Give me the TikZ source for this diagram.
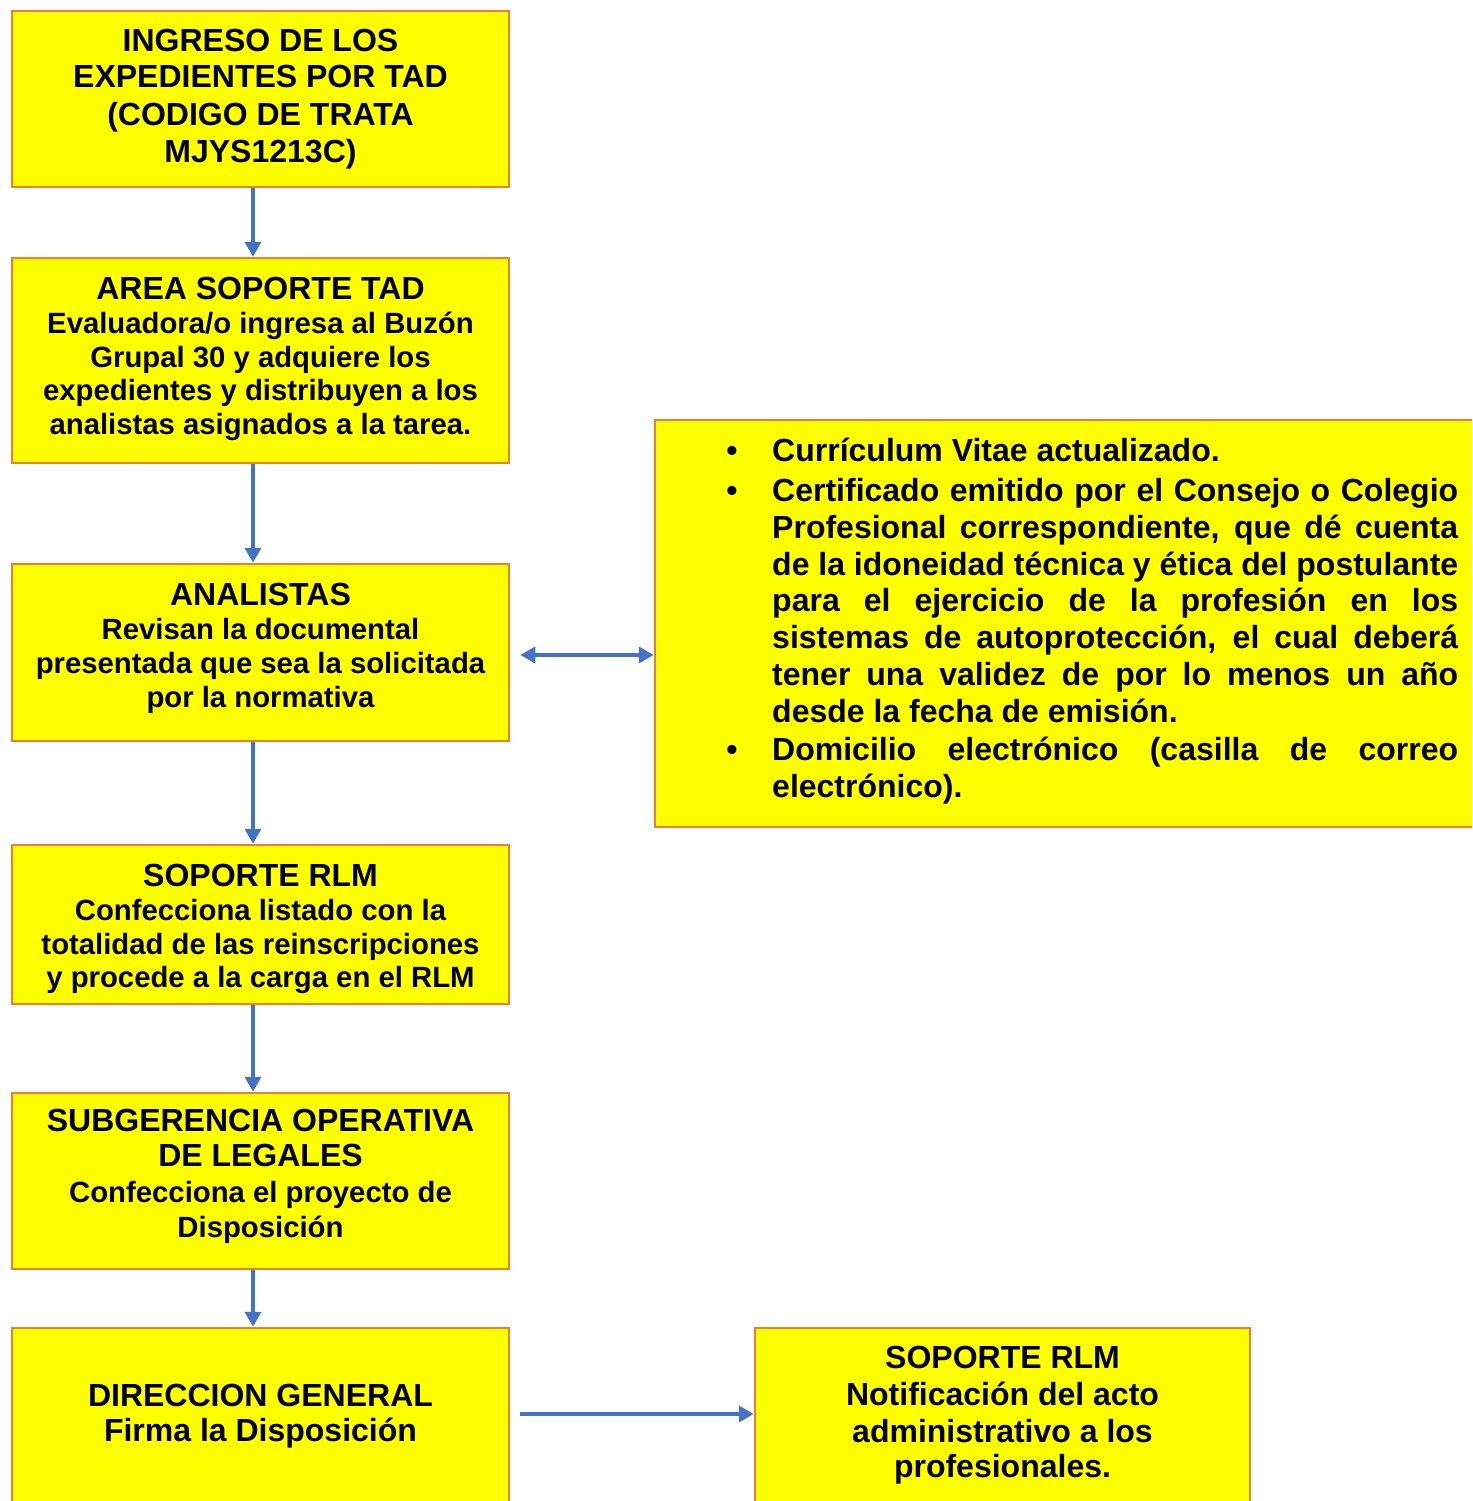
\documentclass[tikz,border=0pt]{standalone}
\usepackage{fontspec}
\setmainfont{Liberation Sans}
\usetikzlibrary{arrows.meta,calc}
\definecolor{boxfill}{HTML}{FFFF00}
\definecolor{boxline}{HTML}{ED7D31}
\definecolor{arrowc}{HTML}{4472C4}
\begin{document}
\begin{tikzpicture}[x=1pt,y=-1pt,
  flowbox/.style={draw=boxline, fill=boxfill, line width=2.5pt, inner sep=0pt},
  ttl/.style={anchor=base, inner sep=0pt, font=\fontsize{32}{37}\selectfont\bfseries},
  sub/.style={anchor=base, inner sep=0pt, font=\fontsize{29.3}{34}\selectfont\bfseries},
  rline/.style={anchor=base west, inner sep=0pt, font=\fontsize{32}{37}\selectfont\bfseries},
  bul/.style={anchor=base, inner sep=0pt, font=\fontsize{32}{37}\selectfont\bfseries},
  conn/.style={draw=arrowc, line width=4pt, -{Triangle[width=16pt,length=15pt]}},
  conndbl/.style={draw=arrowc, line width=4pt, {Triangle[width=16pt,length=15pt]}-{Triangle[width=16pt,length=15pt]}}]
\useasboundingbox (0,0) rectangle (1472,1501);
\clip (0,0) rectangle (1472,1501);
% boxes
\node[flowbox, minimum width=497pt, minimum height=176pt] (b1) at (260.5,99) {};
\node[flowbox, minimum width=497pt, minimum height=205pt] (b2) at (260.5,360.5) {};
\node[flowbox, minimum width=497pt, minimum height=177pt] (b3) at (260.5,652.5) {};
\node[flowbox, minimum width=497pt, minimum height=159pt] (b4) at (260.5,924.5) {};
\node[flowbox, minimum width=497pt, minimum height=176pt] (b5) at (260.5,1181) {};
\node[flowbox, minimum width=497pt, minimum height=182pt] (b6) at (260.5,1419) {};
\node[flowbox, minimum width=825pt, minimum height=407pt] (r1) at (1067.5,623.5) {};
\node[flowbox, minimum width=495pt, minimum height=182pt] (r2) at (1002.5,1419) {};
% box 1
\node[ttl] (t1a) at (260.5,52) {INGRESO DE LOS};
\node[ttl] (t1b) at (260.5,88) {EXPEDIENTES POR TAD};
\node[ttl] (t1c) at (260.5,125) {(CODIGO DE TRATA};
\node[ttl] (t1d) at (260.5,162) {MJYS1213C)};
% box 2
\node[ttl] (t2a) at (260.5,299.5) {AREA SOPORTE TAD};
\node[sub] (t2b) at (260.5,333) {Evaluadora/o ingresa al Buzón};
\node[sub] (t2c) at (260.5,367) {Grupal 30 y adquiere los};
\node[sub] (t2d) at (260.5,400) {expedientes y distribuyen a los};
\node[sub] (t2e) at (260.5,434) {analistas asignados a la tarea.};
% box 3
\node[ttl] (t3a) at (260.5,605) {ANALISTAS};
\node[sub] (t3b) at (260.5,639) {Revisan la documental};
\node[sub] (t3c) at (260.5,673) {presentada que sea la solicitada};
\node[sub] (t3d) at (260.5,707) {por la normativa};
% box 4
\node[ttl] (t4a) at (260.5,886) {SOPORTE RLM};
\node[sub] (t4b) at (260.5,920) {Confecciona listado con la};
\node[sub] (t4c) at (260.5,954) {totalidad de las reinscripciones};
\node[sub] (t4d) at (260.5,987) {y procede a la carga en el RLM};
% box 5
\node[ttl] (t5a) at (260.5,1131.5) {SUBGERENCIA OPERATIVA};
\node[ttl] (t5b) at (260.5,1166.5) {DE LEGALES};
\node[sub] (t5c) at (260.5,1202) {Confecciona el proyecto de};
\node[sub] (t5d) at (260.5,1237) {Disposición};
% box 6
\node[ttl] (t6a) at (260.5,1406) {DIRECCION GENERAL};
\node[ttl] (t6b) at (260.5,1441) {Firma la Disposición};
% box r2
\node[ttl] (t7a) at (1002.5,1368) {SOPORTE RLM};
\node[ttl] (t7b) at (1002.5,1405) {Notificación del acto};
\node[ttl] (t7c) at (1002.5,1442) {administrativo a los};
\node[ttl] (t7d) at (1002.5,1477) {profesionales.};
% box r1
\node[bul] (u1) at (732,461) {\textbullet};
\node[bul] (u2) at (732,501) {\textbullet};
\node[bul] (u3) at (732,760) {\textbullet};
\node[rline] (l1) at (772,461) {Currículum Vitae actualizado.};
\node[rline] (l2) at (772,501) {\makebox[686pt][s]{Certificado emitido por el Consejo o Colegio}};
\node[rline] (l3) at (772,538) {\makebox[686pt][s]{Profesional correspondiente, que dé cuenta}};
\node[rline] (l4) at (772,575) {\makebox[686pt][s]{de la idoneidad técnica y ética del postulante}};
\node[rline] (l5) at (772,611) {\makebox[686pt][s]{para el ejercicio de la profesión en los}};
\node[rline] (l6) at (772,648) {\makebox[686pt][s]{sistemas de autoprotección, el cual deberá}};
\node[rline] (l7) at (772,685) {\makebox[686pt][s]{tener una validez de por lo menos un año}};
\node[rline] (l8) at (772,722) {desde la fecha de emisión.};
\node[rline] (l9) at (772,760) {\makebox[686pt][s]{Domicilio electrónico (casilla de correo}};
\node[rline] (l10) at (772,797) {electrónico).};
% connectors
\draw[conn] ([xshift=-7.5pt]b1.south) -- ([xshift=-7.5pt]b2.north);
\draw[conn] ([xshift=-7.5pt]b2.south) -- ([xshift=-7.5pt]b3.north);
\draw[conn] ([xshift=-7.5pt]b3.south) -- ([xshift=-7.5pt]b4.north);
\draw[conn] ([xshift=-7.5pt]b4.south) -- ([xshift=-7.5pt]b5.north);
\draw[conn] ([xshift=-7.5pt]b5.south) -- ([xshift=-7.5pt]b6.north);
\coordinate (dl) at ($(b3.east)+(10,2.5)$);
\draw[conndbl] (dl) -- (dl -| r1.west);
\coordinate (bl) at ($(b6.east)+(10,-5)$);
\draw[conn] (bl) -- (bl -| r2.west);
\end{tikzpicture}
\end{document}
